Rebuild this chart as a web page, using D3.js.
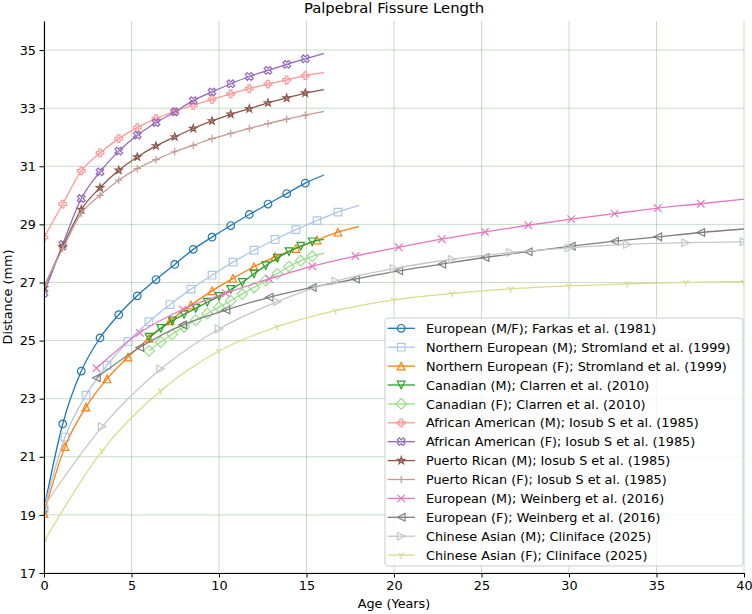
<!DOCTYPE html>
<html lang="en">
<head>
<meta charset="UTF-8">
<title>Palpebral Fissure Length</title>
<script src="https://d3js.org/d3.v7.min.js"></script>
<style>
  body { margin: 0; background: #fff; }
  svg text { font-family: "DejaVu Sans", sans-serif; }
  .axis path, .axis line { stroke: #000; }
</style>
</head>
<body>
<svg id="chart" width="752" height="614"></svg>
<script>
// ages (years) at which values were read; last entry of a "tail" series is the line end only
const agesFarkas = [0, 1.07, 2.13, 3.2, 4.27, 5.33, 6.4, 7.47, 8.53, 9.6, 10.67, 11.73, 12.8, 13.87, 14.93, 16];
const agesStromland = [0, 1.2, 2.4, 3.6, 4.8, 6.0, 7.2, 8.4, 9.6, 10.8, 12.0, 13.2, 14.4, 15.6, 16.8, 18];
const agesClarren = [6, 6.67, 7.33, 8, 8.67, 9.33, 10, 10.67, 11.33, 12, 12.67, 13.33, 14, 14.67, 15.33, 16];
const agesIosub = [0, 1.07, 2.13, 3.2, 4.27, 5.33, 6.4, 7.47, 8.53, 9.6, 10.67, 11.73, 12.8, 13.87, 14.93, 16];
const agesWeinberg = [3, 5.47, 7.93, 10.4, 12.87, 15.33, 17.8, 20.27, 22.73, 25.2, 27.67, 30.13, 32.6, 35.07, 37.53, 40];
const agesCliniface = [0, 3.33, 6.67, 10, 13.33, 16.67, 20, 23.33, 26.67, 30, 33.33, 36.67, 40];

// palpebral fissure length (mm)
const farkasMF = [19.2, 22.13, 23.95, 25.09, 25.89, 26.54, 27.1, 27.62, 28.14, 28.56, 28.96, 29.34, 29.7, 30.06, 30.42, 30.7];
const stromlandM = [19.2, 21.68, 23.12, 24.15, 24.97, 25.65, 26.24, 26.77, 27.25, 27.7, 28.11, 28.48, 28.82, 29.13, 29.42, 29.65];
const stromlandF = [19.05, 21.35, 22.71, 23.68, 24.43, 25.08, 25.68, 26.22, 26.71, 27.14, 27.54, 27.88, 28.17, 28.46, 28.73, 28.92];
const clarrenM = [25.12, 25.42, 25.68, 25.9, 26.11, 26.32, 26.52, 26.76, 27.0, 27.3, 27.58, 27.84, 28.06, 28.25, 28.4, 28.48];
const clarrenF = [24.65, 24.95, 25.22, 25.47, 25.7, 25.93, 26.15, 26.37, 26.6, 26.83, 27.07, 27.3, 27.55, 27.75, 27.9, 28.0];
const africanM = [28.55, 29.7, 30.84, 31.46, 31.95, 32.33, 32.64, 32.89, 33.1, 33.3, 33.49, 33.67, 33.83, 33.97, 34.12, 34.22];
const africanF = [26.63, 28.31, 29.89, 30.81, 31.52, 32.07, 32.5, 32.87, 33.26, 33.56, 33.84, 34.09, 34.3, 34.51, 34.7, 34.88];
const puertoM = [26.82, 28.24, 29.51, 30.26, 30.86, 31.32, 31.7, 32.01, 32.3, 32.56, 32.79, 32.98, 33.18, 33.35, 33.52, 33.64];
const puertoF = [26.88, 28.17, 29.38, 30.0, 30.52, 30.92, 31.23, 31.5, 31.72, 31.95, 32.13, 32.3, 32.47, 32.62, 32.76, 32.89];
const weinbergM = [24.05, 25.27, 26.07, 26.63, 27.12, 27.56, 27.91, 28.21, 28.49, 28.74, 28.97, 29.18, 29.37, 29.56, 29.71, 29.87];
const weinbergF = [23.72, 24.76, 25.54, 26.05, 26.49, 26.83, 27.12, 27.4, 27.63, 27.86, 28.06, 28.25, 28.42, 28.57, 28.72, 28.84];
const clinifaceM = [19.3, 22.04, 24.02, 25.4, 26.34, 27.05, 27.48, 27.8, 28.03, 28.19, 28.31, 28.37, 28.4];
const clinifaceF = [18.08, 21.21, 23.27, 24.64, 25.48, 26.03, 26.4, 26.62, 26.78, 26.88, 26.95, 27.0, 27.03];

const xTicks = [0, 5, 10, 15, 20, 25, 30, 35, 40];
const yTicks = [17, 19, 21, 23, 25, 27, 29, 31, 33, 35];

const series = [
  { label: "European (M/F); Farkas et al. (1981)", color: "#1f77b4", marker: "o", ages: agesFarkas, vals: farkasMF, tail: true },
  { label: "Northern European (M); Stromland et al. (1999)", color: "#aec7e8", marker: "s", ages: agesStromland, vals: stromlandM, tail: true },
  { label: "Northern European (F); Stromland et al. (1999)", color: "#ff7f0e", marker: "^", ages: agesStromland, vals: stromlandF, tail: true },
  { label: "Canadian (M); Clarren et al. (2010)", color: "#2ca02c", marker: "v", ages: agesClarren, vals: clarrenM, tail: true },
  { label: "Canadian (F); Clarren et al. (2010)", color: "#98df8a", marker: "D", ages: agesClarren, vals: clarrenF, tail: true },
  { label: "African American (M); Iosub S et al. (1985)", color: "#ff9896", marker: "P", ages: agesIosub, vals: africanM, tail: true },
  { label: "African American (F); Iosub S et al. (1985)", color: "#9467bd", marker: "X", ages: agesIosub, vals: africanF, tail: true },
  { label: "Puerto Rican (M); Iosub S et al. (1985)", color: "#8c564b", marker: "*", ages: agesIosub, vals: puertoM, tail: true },
  { label: "Puerto Rican (F); Iosub S et al. (1985)", color: "#c49c94", marker: "+", ages: agesIosub, vals: puertoF, tail: true },
  { label: "European (M); Weinberg et al. (2016)", color: "#e377c2", marker: "x", ages: agesWeinberg, vals: weinbergM, tail: true },
  { label: "European (F); Weinberg et al. (2016)", color: "#7f7f7f", marker: "<", ages: agesWeinberg, vals: weinbergF, tail: true },
  { label: "Chinese Asian (M); Cliniface (2025)", color: "#c7c7c7", marker: ">", ages: agesCliniface, vals: clinifaceM, tail: false },
  { label: "Chinese Asian (F); Cliniface (2025)", color: "#dbdb8d", marker: "1", ages: agesCliniface, vals: clinifaceF, tail: false }
];

const width = 752, height = 614;
const margin = { top: 21, right: 8, bottom: 41, left: 44 };
const markerSize = 7.6;
const fontFamily = "DejaVu Sans";

const svg = d3.select("#chart").attr("font-family", fontFamily);

const x = d3.scaleLinear().domain([0, 40]).range([margin.left, width - margin.right]);
const y = d3.scaleLinear().domain([17, 36]).range([height - margin.bottom, margin.top]);

// marker shapes, roughly following matplotlib's
function markerPath(m, s) {
  const h = s / 2;
  const poly = (pts, k) => "M" + pts.map(p => [p[0] * k, p[1] * k].join(",")).join("L") + "Z";
  switch (m) {
    case "o": { const p = d3.path(); p.arc(0, 0, h, 0, 2 * Math.PI); p.closePath(); return p.toString(); }
    case "s": return `M${-h},${-h}H${h}V${h}H${-h}Z`;
    case "^": return `M0,${-h}L${h},${h}L${-h},${h}Z`;
    case "v": return `M0,${h}L${h},${-h}L${-h},${-h}Z`;
    case "<": return `M${-h},0L${h},${-h}L${h},${h}Z`;
    case ">": return `M${h},0L${-h},${-h}L${-h},${h}Z`;
    case "D": { const r = s * 0.7071; return `M0,${-r}L${r},0L0,${r}L${-r},0Z`; }
    case "P": return poly([[-1,-3],[1,-3],[1,-1],[3,-1],[3,1],[1,1],[1,3],[-1,3],[-1,1],[-3,1],[-3,-1],[-1,-1]], s / 6);
    case "X": return poly([[-1,-2],[0,-1],[1,-2],[2,-1],[1,0],[2,1],[1,2],[0,1],[-1,2],[-2,1],[-1,0],[-2,-1]], s / 4);
    case "*": {
      const pts = [];
      for (let i = 0; i < 10; i++) {
        const r = i % 2 === 0 ? h : h * 0.381966;
        const a = -Math.PI / 2 + i * Math.PI / 5;
        pts.push([r * Math.cos(a), r * Math.sin(a)]);
      }
      return poly(pts, 1);
    }
    case "+": return `M${-h},0H${h}M0,${-h}V${h}`;
    case "x": return `M${-h},${-h}L${h},${h}M${-h},${h}L${h},${-h}`;
    case "1": return `M0,0V${h}M0,0L${-0.8 * h},${-0.5 * h}M0,0L${0.8 * h},${-0.5 * h}`;
  }
}

// grid
const grid = svg.append("g").attr("stroke", "#8fbc8f").attr("stroke-opacity", 0.5).attr("stroke-width", 1);
grid.selectAll(".gx").data(xTicks).join("line")
  .attr("x1", d => x(d)).attr("x2", d => x(d))
  .attr("y1", y(17)).attr("y2", y(36));
grid.selectAll(".gy").data(yTicks).join("line")
  .attr("x1", x(0)).attr("x2", x(40))
  .attr("y1", d => y(d)).attr("y2", d => y(d));

svg.append("clipPath").attr("id", "plot-clip")
  .append("rect")
  .attr("x", x(0)).attr("y", y(36))
  .attr("width", x(40) - x(0)).attr("height", y(17) - y(36));

const plot = svg.append("g").attr("clip-path", "url(#plot-clip)");

const line = d3.line()
  .x(d => x(d[0]))
  .y(d => y(d[1]))
  .curve(d3.curveMonotoneX);

series.forEach(s => {
  const pts = s.ages.map((a, i) => [a, s.vals[i]]);
  const marks = s.tail ? pts.slice(0, -1) : pts;
  plot.append("path")
    .datum(pts)
    .attr("fill", "none")
    .attr("stroke", s.color)
    .attr("stroke-width", 1.3)
    .attr("d", line);
  plot.selectAll(null)
    .data(marks)
    .join("path")
    .attr("transform", d => `translate(${x(d[0])},${y(d[1])})`)
    .attr("d", markerPath(s.marker, markerSize))
    .attr("fill", "none")
    .attr("stroke", s.color)
    .attr("stroke-width", 1.2);
});

// axes
svg.append("g")
  .attr("class", "axis")
  .attr("transform", `translate(0,${y(17)})`)
  .call(d3.axisBottom(x).tickValues(xTicks).tickSize(4.5).tickPadding(3.5).tickSizeOuter(0))
  .call(g => g.select(".domain").attr("stroke-width", 1.1));

svg.append("g")
  .attr("class", "axis")
  .attr("transform", `translate(${x(0)},0)`)
  .call(d3.axisLeft(y).tickValues(yTicks).tickSize(4.5).tickPadding(3.5).tickSizeOuter(0))
  .call(g => g.select(".domain").attr("stroke-width", 1.1));

svg.selectAll(".axis").attr("font-family", fontFamily).attr("font-size", 12.8);
svg.selectAll(".axis text").attr("fill", "#000");

// title and axis labels
svg.append("text")
  .attr("x", (x(0) + x(40)) / 2)
  .attr("y", 12.5)
  .attr("text-anchor", "middle")
  .attr("font-family", fontFamily)
  .attr("font-size", 14.8)
  .text("Palpebral Fissure Length");

svg.append("text")
  .attr("x", (x(0) + x(40)) / 2)
  .attr("y", 608)
  .attr("text-anchor", "middle")
  .attr("font-family", fontFamily)
  .attr("font-size", 12.8)
  .text("Age (Years)");

svg.append("text")
  .attr("transform", `translate(12,${(y(17) + y(36)) / 2}) rotate(-90)`)
  .attr("text-anchor", "middle")
  .attr("font-family", fontFamily)
  .attr("font-size", 12.8)
  .text("Distance (mm)");

// legend
const legend = svg.append("g").attr("transform", "translate(385,318)");
legend.append("rect")
  .attr("width", 358).attr("height", 248)
  .attr("rx", 3)
  .attr("fill", "#fff").attr("fill-opacity", 0.8)
  .attr("stroke", "#cccccc");

const rows = legend.selectAll(".row")
  .data(series)
  .join("g")
  .attr("transform", (d, i) => `translate(0,${10.3 + i * 18.9})`);

rows.append("line")
  .attr("x1", 2.5).attr("x2", 30)
  .attr("stroke", d => d.color)
  .attr("stroke-width", 1.3);

rows.append("path")
  .attr("transform", "translate(16.2,0)")
  .attr("d", d => markerPath(d.marker, markerSize))
  .attr("fill", "none")
  .attr("stroke", d => d.color)
  .attr("stroke-width", 1.2);

rows.append("text")
  .attr("x", 41)
  .attr("dy", "0.36em")
  .attr("font-family", fontFamily)
  .attr("font-size", 12.8)
  .text(d => d.label);
</script>
</body>
</html>
